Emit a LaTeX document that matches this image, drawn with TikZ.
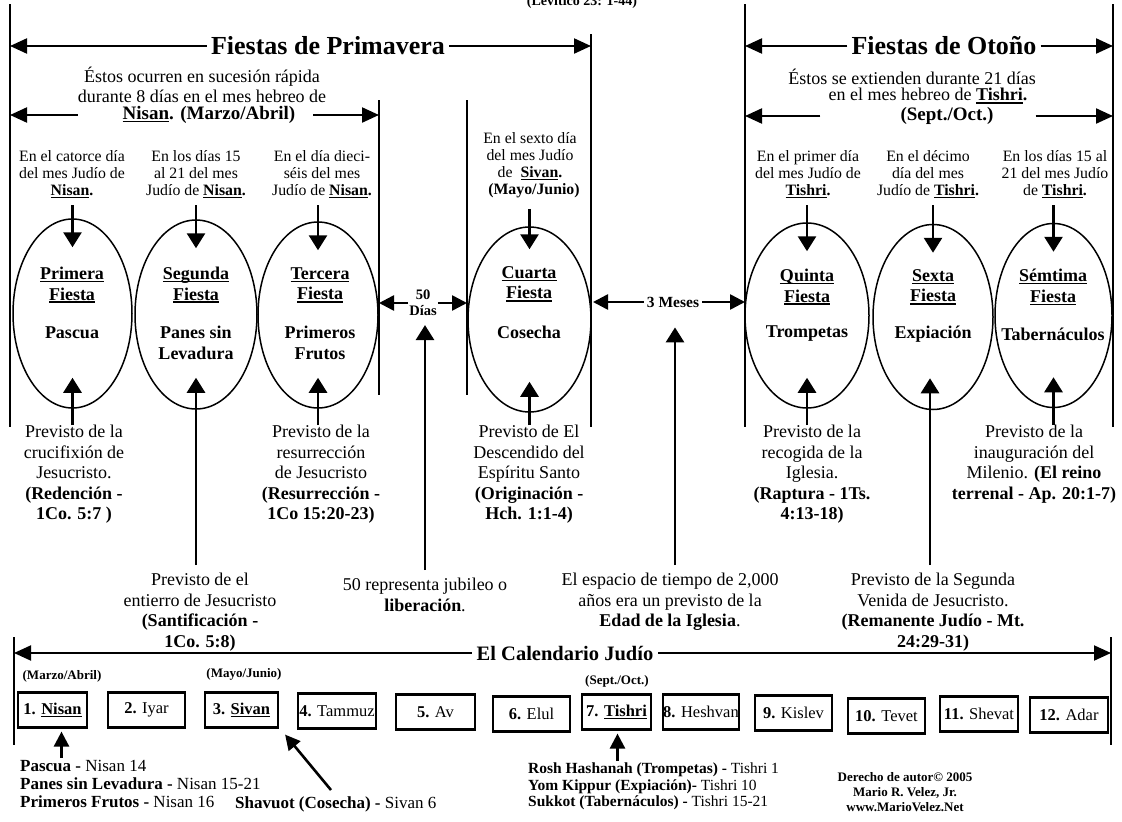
\documentclass[tikz,border=0pt]{standalone}
\usepackage{fontspec}
\setmainfont{Liberation Serif}
\usetikzlibrary{arrows.meta,shapes.geometric,calc}
\newcommand\ulb[1]{\setbox0\hbox{#1}\rlap{\rule[-2.8pt]{\wd0}{1.4pt}}\box0}
\begin{document}
\begin{tikzpicture}[x=1pt,y=-1pt,
  vline/.style={line width=1.4pt},
  harrow/.style={line width=2.2pt,-{Triangle[length=17pt,width=15pt]}},
  sarrow/.style={line width=2.6pt,-{Triangle[length=15pt,width=15pt]}},
  varrow/.style={line width=2.8pt,-{Triangle[length=15pt,width=18pt]}},
  ell/.style={draw,ellipse,line width=1.5pt,inner sep=0pt},
  body/.style={font=\fontsize{18}{20.5}\selectfont,align=center,inner sep=0pt},
  head/.style={font=\fontsize{18}{19}\selectfont,align=center,inner sep=0pt},
  small/.style={font=\fontsize{15.8}{17}\selectfont,align=center,inner sep=0pt},
  etitle/.style={font=\fontsize{18}{20.5}\selectfont\bfseries,align=center,inner sep=0pt},
  ttl/.style={font=\fontsize{26}{28}\selectfont\bfseries,inner sep=4pt},
  mbox/.style={draw,line width=2.2pt,minimum height=35pt,inner sep=0pt,font=\fontsize{16.5}{18}\selectfont},
  calt/.style={font=\fontsize{17}{18}\selectfont,align=left,inner sep=0pt},
  mon/.style={font=\fontsize{13}{14}\selectfont\bfseries,inner sep=0pt},
]
\useasboundingbox (0,0) rectangle (1122,822);

% vertical lines
\coordinate (a1) at (10,4);    \coordinate (a2) at (10,427);
\coordinate (b1) at (379,100); \coordinate (b2) at (379,395);
\coordinate (c1) at (467,100); \coordinate (c2) at (467,395);
\coordinate (d1) at (591,34);  \coordinate (d2) at (591,427);
\coordinate (f1) at (745,4);   \coordinate (f2) at (745,427);
\coordinate (g1) at (1113,4);  \coordinate (g2) at (1113,427);
\foreach \p in {a,b,c,d,f,g} {\draw[vline] (\p1) -- (\p2);}

\node[font=\fontsize{14}{14}\selectfont\bfseries,anchor=base,inner sep=0pt] (lev) at (582,5) {(Levitico 23: 1-44)};

% titles
\node[ttl] (fp) at (328,46) {Fiestas de Primavera};
\draw[harrow] (fp.west) -- (a1 |- fp.west);
\draw[harrow] (fp.east) -- (d1 |- fp.east);
\node[ttl] (fo) at (944,46) {Fiestas de Otoño};
\draw[harrow] (fo.west) -- (f1 |- fo.west);
\draw[harrow] (fo.east) -- (g1 |- fo.east);

\node[head] (sp1) at (202,77) {Éstos ocurren en sucesión rápida};
\node[head] (sp2) at (202,96) {durante 8 días en el mes hebreo de};
\node[head,font=\fontsize{19}{19}\selectfont\bfseries] (sp3) at (209,115) {\ulb{Nisan}. (Marzo/Abril)};
\draw[harrow] ($(sp3.west)+(-45,0)$) -- (a1 |- sp3.west);
\draw[harrow] ($(sp3.east)+(18,0)$) -- (b1 |- sp3.east);

\node[head] (so1) at (912,77) {Éstos se extienden durante 21 días};
\node[head] (so2) at (928,96) {en el mes hebreo de \textbf{\ulb{Tishri}.}};
\node[head,font=\fontsize{19}{19}\selectfont\bfseries] (so3) at (947,116) {(Sept./Oct.)};
\draw[harrow] ($(so3.west)+(-80,0)$) -- (f1 |- so3.west);
\draw[harrow] ($(so3.east)+(42,0)$) -- (g1 |- so3.east);

% small top texts
\node[small,anchor=north] (n1) at (72,150) {En el catorce día\\del mes Judío de\\\textbf{\ulb{Nisan}.}};
\node[small,anchor=north] (n2) at (196,150) {En los días 15\\al 21 del mes\\Judío de \textbf{\ulb{Nisan}.}};
\node[small,anchor=north] (n3) at (322,150) {En el día dieci-\\séis del mes\\Judío de \textbf{\ulb{Nisan}.}};
\node[small,anchor=north] (n4) at (530,132) {En el sexto día\\del mes Judío\\de\ \ \textbf{\ulb{Sivan}.}\\\ \ \textbf{(Mayo/Junio)}};
\node[small,anchor=north] (n5) at (808,150) {En el primer día\\del mes Judío de\\\textbf{\ulb{Tishri}.}};
\node[small,anchor=north] (n6) at (928,150) {En el décimo\\día del mes\\Judío de \textbf{\ulb{Tishri}.}};
\node[small,anchor=north] (n7) at (1055,150) {En los días 15 al\\21 del mes Judío\\de \textbf{\ulb{Tishri}.}};

% ellipses
\node[ell,minimum width=119,minimum height=189] (e1) at (72.5,313.5) {};
\node[ell,minimum width=122,minimum height=189] (e2) at (196,314.5) {};
\node[ell,minimum width=120,minimum height=186] (e3) at (318,315) {};
\node[ell,minimum width=123,minimum height=185] (e4) at (529.5,319.5) {};
\node[ell,minimum width=124,minimum height=185] (e5) at (807,315.5) {};
\node[ell,minimum width=120,minimum height=185] (e6) at (933,317) {};
\node[ell,minimum width=117,minimum height=184] (e7) at (1053.5,315.5) {};

\node[etitle] (t1) at (72,285) {\ulb{Primera}\\\ulb{Fiesta}};
\node[etitle] (t2) at (196,285) {\ulb{Segunda}\\\ulb{Fiesta}};
\node[etitle] (t3) at (320,285) {\ulb{Tercera}\\\ulb{Fiesta}};
\node[etitle] (t4) at (529,284) {\ulb{Cuarta}\\\ulb{Fiesta}};
\node[etitle] (t5) at (807,287) {\ulb{Quinta}\\\ulb{Fiesta}};
\node[etitle] (t6) at (933,287) {\ulb{Sexta}\\\ulb{Fiesta}};
\node[etitle] (t7) at (1053,287) {\ulb{Sémtima}\\\ulb{Fiesta}};
\node[etitle] (m1) at (72,333) {Pascua};
\node[etitle] (m2) at (196,343) {Panes sin\\Levadura};
\node[etitle] (m3x) at (320,343) {Primeros\\Frutos};
\node[etitle] (m4) at (529,332) {Cosecha};
\node[etitle] (m5) at (807,334) {Trompetas};
\node[etitle] (m6) at (933,334) {Expiación};
\node[etitle] (m7) at (1053,334) {Tabernáculos};

% down arrows
\foreach \i in {1,2,3,5,6,7} {\draw[varrow] ($(e\i.north |- n\i.south)+(0,7)$) -- ($(e\i.north)+(0,29)$);}
\draw[varrow] ($(e4.north |- n4.south)+(0,11)$) -- ($(e4.north)+(0,23)$);

% intervals
\node[font=\fontsize{14.5}{16}\selectfont\bfseries,align=center,inner sep=1pt] (d50) at (423,303) {50\\Días};
\draw[sarrow] (d50.west) -- (b1 |- d50.west);
\draw[sarrow] (d50.east) -- (c1 |- d50.east);
\node[font=\fontsize{15.5}{16}\selectfont\bfseries,inner sep=3pt] (m3) at (673,302) {3 Meses};
\draw[sarrow] (m3.west) -- ($(d1 |- m3.west)+(2,0)$);
\draw[sarrow] (m3.east) -- (f1 |- m3.east);

% lower texts
\node[body,anchor=north] (p1) at (74,425) {Previsto de la\\crucifixión de\\Jesucristo.\\\textbf{(Redención -}\\\textbf{1Co. 5:7 )}};
\node[body,anchor=north] (p3) at (321,425) {Previsto de la\\resurrección\\de Jesucristo\\\textbf{(Resurrección -}\\\textbf{1Co 15:20-23)}};
\node[body,anchor=north] (p4) at (529,425) {Previsto de El\\Descendido del\\Espíritu Santo\\\textbf{(Originación -}\\\textbf{Hch. 1:1-4)}};
\node[body,anchor=north] (p5) at (812,425) {Previsto de la\\recogida de la\\Iglesia.\\\textbf{(Raptura - 1Ts.}\\\textbf{4:13-18)}};
\node[body,anchor=north] (p7) at (1034,425) {Previsto de la\\inauguración del\\Milenio. \textbf{(El reino}\\\textbf{terrenal - Ap. 20:1-7)}};
\node[body,anchor=north] (p2) at (200,573) {Previsto de el\\entierro de Jesucristo\\\textbf{(Santificación -}\\\textbf{1Co. 5:8)}};
\node[body,anchor=north] (j50) at (425,578) {50 representa jubileo o\\\textbf{liberación}.};
\node[body,anchor=north] (esp) at (670,573) {El espacio de tiempo de 2,000\\años era un previsto de la\\\textbf{Edad de la Iglesia}.};
\node[body,anchor=north] (p6) at (933,573) {Previsto de la Segunda\\Venida de Jesucristo.\\\textbf{(Remanente Judío - Mt.}\\\textbf{24:29-31)}};

% up arrows
\foreach \i in {1,3,4,5,7} {\draw[varrow] (e\i.south |- p\i.north) -- ($(e\i.south)+(0,-31)$);}
\draw[varrow] ($(e2.south |- p2.north)+(0,-8)$) -- ($(e2.south)+(0,-32)$);
\draw[varrow] ($(e6.south |- p6.north)+(-3,-8)$) -- ($(e6.south)+(-3,-32)$);
\draw[varrow] ($(d50.south |- j50.north)+(2,-8)$) -- ($(d50.south)+(2,8)$);
\draw[varrow] ($(m3.south |- esp.north)+(2,-8)$) -- ($(m3.south)+(2,17)$);

% calendar
\coordinate (k1) at (14,637); \coordinate (k2) at (14,745);
\coordinate (k3) at (1111,637); \coordinate (k4) at (1111,745);
\draw[vline] (k1) -- (k2); \draw[vline] (k3) -- (k4);
\node[font=\fontsize{20.5}{21}\selectfont\bfseries,inner sep=5pt] (cal) at (565,653) {El Calendario Judío};
\draw[harrow,line width=2pt] (cal.west) -- (k1 |- cal.west);
\draw[harrow,line width=2pt] (cal.east) -- (k3 |- cal.east);

\node[mon] (mA) at (62,676) {(Marzo/Abril)};
\node[mon] (mB) at (244,674) {(Mayo/Junio)};
\node[mon] (mC) at (617,681) {(Sept./Oct.)};

\node[mbox,minimum width=69] (x1) at (52.5,710) {\textbf{1. \ulb{Nisan}}};
\node[mbox,minimum width=77] (x2) at (146.5,710) {\textbf{2.} Iyar};
\node[mbox,minimum width=73] (x3) at (241.5,710) {\textbf{3. \ulb{Sivan}}};
\node[mbox,minimum width=78] (x4) at (337,711) {\textbf{4.} Tammuz};
\node[mbox,minimum width=79] (x5) at (435.5,712) {\textbf{5.} Av};
\node[mbox,minimum width=77] (x6) at (531.5,714) {\textbf{6.} Elul};
\node[mbox,minimum width=69] (x7) at (616.5,712) {\textbf{7. \ulb{Tishri}}};
\node[mbox,minimum width=72] (x8) at (701,712) {\textbf{8.} Heshvan};
\node[mbox,minimum width=77] (x9) at (793.5,713) {\textbf{9.} Kislev};
\node[mbox,minimum width=77] (x10) at (886.5,716) {\textbf{10.} Tevet};
\node[mbox,minimum width=78] (x11) at (979,714) {\textbf{11.} Shevat};
\node[mbox,minimum width=78] (x12) at (1069,715) {\textbf{12.} Adar};

\node[calt,anchor=north west] (cl1) at (20,760) {\textbf{Pascua -} Nisan 14\\\textbf{Panes sin Levadura -} Nisan 15-21\\\textbf{Primeros Frutos -} Nisan 16};
\node[calt,anchor=base west] (cl2) at (235,808) {\textbf{Shavuot (Cosecha) -} Sivan 6};
\node[calt,font=\fontsize{15.5}{16.5}\selectfont,anchor=north west] (cl3) at (528,763) {\textbf{Rosh Hashanah (Trompetas) -} Tishri 1\\\textbf{Yom Kippur (Expiación)-} Tishri 10\\\textbf{Sukkot (Tabernáculos) -} Tishri 15-21};
\node[font=\fontsize{13}{15}\selectfont\bfseries,align=center,inner sep=0pt] (cp) at (905,792) {Derecho de autor© 2005\\Mario R. Velez, Jr.\\www.MarioVelez.Net};

\draw[sarrow] ($(x1.south |- cl1.north)+(9,-2)$) -- ($(x1.south)+(9,3)$);
\draw[sarrow] ($(cl2.north west)+(96,-6)$) -- ($(x3.south east)+(6,6)$);
\draw[sarrow] ($(x7.south |- cl3.north)+(1,-2)$) -- ($(x7.south)+(1,3)$);
\end{tikzpicture}
\end{document}
